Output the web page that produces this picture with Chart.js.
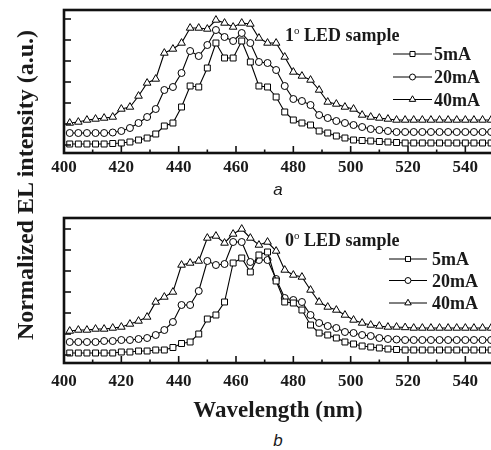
<!DOCTYPE html>
<html>
<head>
<meta charset="utf-8">
<script src="https://cdn.jsdelivr.net/npm/chart.js@4.4.0/dist/chart.umd.min.js"></script>
<style>
  html, body { margin: 0; padding: 0; background: #fff; overflow: hidden; width: 491px; height: 450px; }
  .panel { position: absolute; left: 0; }
  .txt { position: absolute; white-space: nowrap; line-height: 1; color: #1a1a1a;
         font-family: "Liberation Serif", "Times New Roman", serif; font-weight: bold; }
  .sub { position: absolute; white-space: nowrap; line-height: 1; color: #1a1a1a;
         font-family: "Liberation Sans", Arial, sans-serif; font-style: italic; font-size: 17px; }
</style>
</head>
<body>
<div class="panel" style="top:0px"><canvas id="topChart" width="494" height="200"></canvas></div>
<div class="panel" style="top:208px"><canvas id="bottomChart" width="494" height="202"></canvas></div>

<div class="txt" style="left:285px; top:25px; font-size:18px;">1<span style="font-size:11px; vertical-align:7px; font-weight:normal;">o</span> LED sample</div>
<div class="txt" style="left:285px; top:230px; font-size:18px;">0<span style="font-size:11px; vertical-align:7px; font-weight:normal;">o</span> LED sample</div>
<div class="sub" style="left:178px; width:200px; text-align:center; top:181px;">a</div>
<div class="sub" style="left:178px; width:200px; text-align:center; top:432px;">b</div>
<div class="txt" style="left:78px; width:400px; text-align:center; top:398px; font-size:23px;">Wavelength (nm)</div>
<div class="txt" style="left:-175px; width:400px; text-align:center; top:173px; font-size:24px; transform:rotate(-90deg);">Normalized EL intensity (a.u.)</div>

<script>
// ===============================
// Data
// ===============================
const wavelengths = [402, 405, 408, 411, 414, 417, 420, 423, 426, 429, 432, 435, 438, 441, 444, 447, 450, 453, 456, 459,
  462, 465, 468, 471, 474, 477, 480, 483, 486, 489, 492, 495, 498, 501, 504, 507, 510, 513, 516, 519,
  522, 525, 528, 531, 534, 537, 540, 543, 546, 549];

const seriesLabels = ["5mA", "20mA", "40mA"];
const xTickLabels = [400, 420, 440, 460, 480, 500, 520, 540];
const yTickValues = [0.08, 0.29, 0.50, 0.71, 0.92, 1.13, 1.34];

// panel a : 1 degree sample
const top5mA = [0.09, 0.09, 0.09, 0.09, 0.09, 0.095, 0.10, 0.11, 0.13, 0.15, 0.19, 0.27, 0.30, 0.46, 0.67, 0.66, 0.85, 1.10, 0.95, 0.95,
  1.12, 0.91, 0.67, 0.66, 0.56, 0.41, 0.33, 0.30, 0.28, 0.22, 0.20, 0.17, 0.15, 0.13, 0.125, 0.12, 0.115, 0.11, 0.105, 0.10,
  0.10, 0.10, 0.10, 0.10, 0.10, 0.10, 0.10, 0.10, 0.10, 0.10];
const top20mA = [0.20, 0.20, 0.20, 0.20, 0.20, 0.205, 0.22, 0.25, 0.30, 0.36, 0.44, 0.63, 0.66, 0.80, 1.02, 0.97, 1.08, 1.23, 1.16, 1.12,
  1.20, 1.10, 0.91, 0.90, 0.83, 0.67, 0.54, 0.52, 0.48, 0.38, 0.35, 0.32, 0.30, 0.28, 0.26, 0.24, 0.23, 0.22, 0.21, 0.21,
  0.21, 0.21, 0.21, 0.21, 0.21, 0.21, 0.21, 0.21, 0.21, 0.21];
const top40mA = [0.30, 0.31, 0.33, 0.34, 0.35, 0.36, 0.44, 0.46, 0.57, 0.70, 0.74, 1.00, 1.04, 1.10, 1.25, 1.25, 1.24, 1.33, 1.30, 1.26,
  1.30, 1.29, 1.15, 1.10, 1.10, 0.96, 0.81, 0.77, 0.73, 0.63, 0.51, 0.49, 0.46, 0.44, 0.38, 0.36, 0.35, 0.34, 0.33, 0.33,
  0.33, 0.33, 0.33, 0.33, 0.33, 0.33, 0.33, 0.33, 0.33, 0.33];

// panel b : 0 degree sample
const bottom5mA = [0.10, 0.10, 0.10, 0.10, 0.10, 0.10, 0.11, 0.11, 0.12, 0.12, 0.13, 0.13, 0.155, 0.195, 0.21, 0.29, 0.44, 0.48, 0.61, 1.00,
  1.05, 0.91, 1.08, 1.11, 0.82, 0.61, 0.60, 0.53, 0.38, 0.30, 0.28, 0.25, 0.21, 0.19, 0.17, 0.16, 0.15, 0.14, 0.135, 0.13,
  0.13, 0.13, 0.13, 0.13, 0.13, 0.13, 0.13, 0.13, 0.13, 0.13];
const bottom20mA = [0.21, 0.21, 0.21, 0.21, 0.22, 0.22, 0.23, 0.23, 0.24, 0.25, 0.28, 0.33, 0.41, 0.58, 0.58, 0.72, 1.02, 0.98, 0.99, 1.21,
  1.21, 1.01, 1.03, 1.03, 0.84, 0.65, 0.63, 0.61, 0.48, 0.40, 0.37, 0.35, 0.31, 0.30, 0.28, 0.27, 0.25, 0.24, 0.235, 0.23,
  0.23, 0.23, 0.23, 0.23, 0.23, 0.23, 0.23, 0.23, 0.23, 0.23];
const bottom40mA = [0.32, 0.33, 0.33, 0.34, 0.34, 0.35, 0.36, 0.39, 0.42, 0.46, 0.61, 0.66, 0.71, 0.98, 1.00, 1.02, 1.25, 1.27, 1.20, 1.29,
  1.34, 1.25, 1.18, 1.21, 1.12, 0.93, 0.88, 0.86, 0.73, 0.61, 0.56, 0.53, 0.48, 0.43, 0.40, 0.38, 0.37, 0.36, 0.36, 0.355,
  0.35, 0.35, 0.35, 0.35, 0.35, 0.35, 0.35, 0.35, 0.35, 0.35];

// ===============================
// Marker styles
// ===============================
const markers = [
  { style: "rect", radius: 4.2 },
  { style: "circle", radius: 3.5 },
  { style: "triangle", radius: 4.4 },
];
const SERIF = '"Liberation Serif", "Times New Roman", serif';

function drawMarker(ctx, style, r, x, y) {
  ctx.beginPath();
  if (style === "rect") {
    const s = r * Math.SQRT1_2;
    ctx.rect(x - s, y - s, 2 * s, 2 * s);
  } else if (style === "circle") {
    ctx.arc(x, y, r, 0, Math.PI * 2);
  } else {
    for (let i = 0; i < 3; i++) {
      const a = i * (2 * Math.PI / 3);
      const px = x + Math.sin(a) * r;
      const py = y - Math.cos(a) * r;
      i === 0 ? ctx.moveTo(px, py) : ctx.lineTo(px, py);
    }
    ctx.closePath();
  }
  ctx.fill();
  ctx.stroke();
}

// ===============================
// Frame, inward ticks and legend
// ===============================
const panelDecor = {
  id: "panelDecor",
  afterDraw(chart, args, opts) {
    const { ctx, chartArea: a, scales: { x, y } } = chart;
    ctx.save();
    ctx.strokeStyle = "#111";

    // x ticks (major every 20, minor every 10), pointing up
    ctx.lineWidth = 1.6;
    x.ticks.forEach((t) => {
      const px = x.getPixelForValue(t.value);
      const len = t.value % 20 === 0 ? 7 : 3.5;
      ctx.beginPath();
      ctx.moveTo(px, a.bottom);
      ctx.lineTo(px, a.bottom - len);
      ctx.stroke();
    });

    // y ticks, pointing right
    yTickValues.forEach((v) => {
      const py = y.getPixelForValue(v);
      ctx.beginPath();
      ctx.moveTo(a.left, py);
      ctx.lineTo(a.left + 7, py);
      ctx.stroke();
    });

    // frame
    ctx.lineWidth = 2.6;
    ctx.strokeRect(a.left, a.top, a.right - a.left, a.bottom - a.top);

    // legend
    ctx.font = "bold 18px " + SERIF;
    ctx.textBaseline = "alphabetic";
    opts.rows.forEach((base, i) => {
      const ly = base - 6;
      ctx.strokeStyle = "#000";
      ctx.lineWidth = 1;
      ctx.beginPath();
      ctx.moveTo(opts.lineX[0], ly);
      ctx.lineTo(opts.lineX[1], ly);
      ctx.stroke();
      ctx.fillStyle = "#fff";
      drawMarker(ctx, markers[i].style, markers[i].radius * 0.85, (opts.lineX[0] + opts.lineX[1]) / 2, ly);
      ctx.fillStyle = "#1a1a1a";
      ctx.fillText(seriesLabels[i], opts.textX, base);
    });
    ctx.restore();
  },
};

// ===============================
// Build one panel
// ===============================
function makePanel(canvasId, series, yMax, labelPad, legend) {
  const ctx = document.getElementById(canvasId).getContext("2d");
  return new Chart(ctx, {
    type: "line",
    data: {
      labels: wavelengths,
      datasets: series.map((vals, i) => ({
        label: seriesLabels[i],
        data: wavelengths.map((w, k) => ({ x: w, y: vals[k] })),
        borderColor: "#000",
        borderWidth: 1.1,
        pointStyle: markers[i].style,
        pointRadius: markers[i].radius,
        pointBackgroundColor: "#fff",
        pointBorderColor: "#000",
        pointBorderWidth: 1,
        tension: 0,
        fill: false,
        clip: 6,
      })),
    },
    options: {
      responsive: false,
      animation: false,
      devicePixelRatio: 1,
      layout: { autoPadding: false, padding: { left: 0, top: 10, right: 0, bottom: 0 } },
      plugins: {
        legend: { display: false },
        tooltip: { enabled: false },
        panelDecor: legend,
      },
      scales: {
        x: {
          type: "linear",
          min: 400,
          max: 550,
          grid: { display: false, drawTicks: false },
          border: { display: false },
          ticks: {
            stepSize: 10,
            autoSkip: false,
            maxRotation: 0,
            padding: labelPad,
            color: "#1a1a1a",
            font: { family: SERIF, weight: "bold", size: 17 },
            callback: (v) => (xTickLabels.includes(v) ? String(v) : ""),
          },
          afterFit: (s) => {
            s.height = 47;
            s.paddingLeft = 0;
            s.paddingRight = 0;
          },
        },
        y: {
          min: 0,
          max: yMax,
          grid: { display: false, drawTicks: false },
          border: { display: false },
          ticks: { display: false },
          afterFit: (s) => { s.width = 64; },
        },
      },
    },
    plugins: [panelDecor],
  });
}

makePanel("topChart", [top5mA, top20mA, top40mA], 1.43, 4,
  { rows: [60, 83, 105.5], lineX: [393, 432], textX: 434 });
makePanel("bottomChart", [bottom5mA, bottom20mA, bottom40mA], 1.45, 8,
  { rows: [57, 78.5, 101], lineX: [389, 427], textX: 432 });
</script>
</body>
</html>
